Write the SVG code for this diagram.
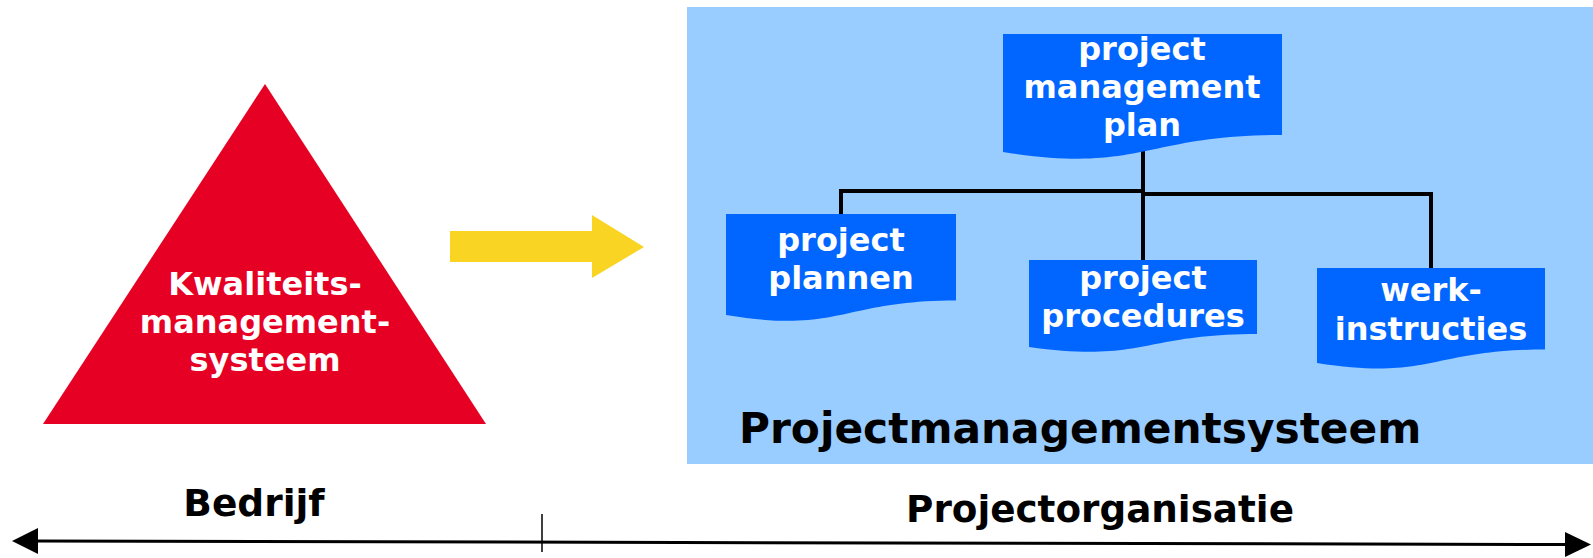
<svg xmlns="http://www.w3.org/2000/svg" width="1593" height="558" viewBox="0 0 1593 558">
  <style>
    .t { font-family: "DejaVu Sans", Verdana, sans-serif; font-weight: bold; }
    .w { fill: #FFFFFF; font-size: 32px; text-anchor: middle; }
    .doc { fill: #0066FF; }
    .conn { fill: none; stroke: #000000; stroke-width: 4; }
  </style>
  <rect width="1593" height="558" fill="#FFFFFF"/>

  <g id="projectsysteem-bg">
    <rect x="687" y="7" width="906" height="457" fill="#99CCFF"/>
    <text class="t" x="739" y="443" font-size="42.3" fill="#000000">Projectmanagementsysteem</text>
  </g>

  <g id="connectors">
    <path class="conn" d="M1143,140 V262"/>
    <path class="conn" d="M841,216 V191 H1143"/>
    <path class="conn" d="M1143,194 H1431 V270"/>
  </g>

  <g id="kms">
    <polygon points="265,84 486,424 43,424" fill="#E60023"/>
    <text class="t w" x="265" y="295">Kwaliteits-</text>
    <text class="t w" x="265" y="333">management-</text>
    <text class="t w" x="265" y="371">systeem</text>
  </g>

  <g id="pijl">
    <polygon points="450,231 592,231 592,215 644,247 592,278 592,262 450,262" fill="#F9D423"/>
  </g>

  <g id="pmp">
    <path class="doc" d="M1003,34 H1282 V135 C1142.5,135 1142.5,174 1003,152 Z"/>
    <text class="t w" x="1142" y="60">project</text>
    <text class="t w" x="1142" y="98">management</text>
    <text class="t w" x="1142" y="136">plan</text>
  </g>

  <g id="plannen">
    <path class="doc" d="M726,214 H956 V300.5 C841,300.5 841,334 726,315 Z"/>
    <text class="t w" x="841" y="251">project</text>
    <text class="t w" x="841" y="289">plannen</text>
  </g>

  <g id="procedures">
    <path class="doc" d="M1029,260 H1257 V334 C1143,334 1143,363 1029,347 Z"/>
    <text class="t w" x="1143" y="289">project</text>
    <text class="t w" x="1143" y="327">procedures</text>
  </g>

  <g id="werkinstructies">
    <path class="doc" d="M1317,268 H1545 V349.5 C1431,349.5 1431,381 1317,363 Z"/>
    <text class="t w" x="1431" y="301">werk-</text>
    <text class="t w" x="1431" y="340">instructies</text>
  </g>

  <g id="as">
    <line x1="36" y1="541" x2="1567" y2="544.5" stroke="#000000" stroke-width="3"/>
    <polygon points="12,541 38,528 38,554" fill="#000000"/>
    <polygon points="1591,544.5 1565,532 1565,557" fill="#000000"/>
    <line x1="542" y1="514" x2="542" y2="552" stroke="#000000" stroke-width="1.5"/>
    <text class="t" x="254" y="516" font-size="37.5" text-anchor="middle" fill="#000000">Bedrijf</text>
    <text class="t" x="1100" y="522" font-size="37.3" text-anchor="middle" fill="#000000">Projectorganisatie</text>
  </g>
</svg>
